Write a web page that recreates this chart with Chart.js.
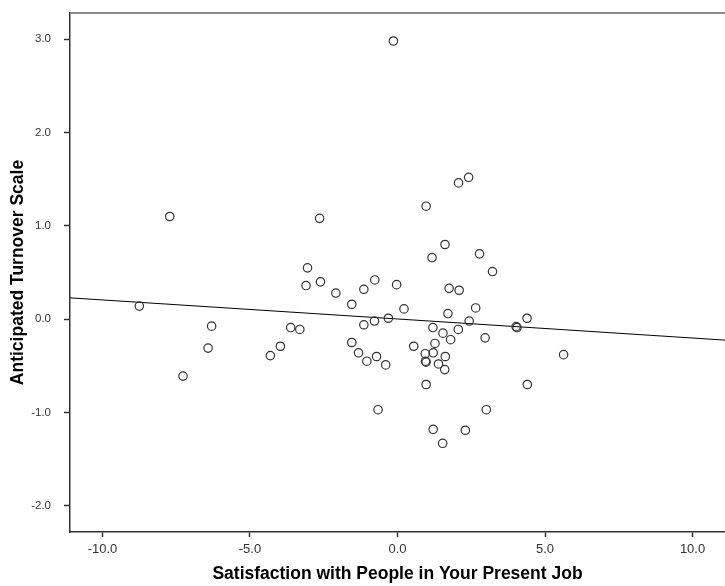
<!DOCTYPE html>
<html>
<head>
<meta charset="utf-8">
<script src="https://cdn.jsdelivr.net/npm/chart.js@4/dist/chart.umd.min.js"></script>
<style>
  html, body { margin: 0; padding: 0; background: #ffffff; }
  #wrap { width: 725px; height: 586px; position: relative; }
</style>
</head>
<body>
<div id="wrap"><canvas id="c" width="725" height="586"></canvas></div>
<script>
// Satisfaction with People in Your Present Job (x)
const satisfactionX = [
  -0.14, 2.07, 2.41, -7.72, -8.75, -6.30, -6.42, -7.27, -3.62, -3.31,
  -3.97, -4.31, -3.05, -3.10, 0.97, -2.64, 1.61, 2.78, 1.17, 3.22,
  -2.61, -0.77, -1.14, -0.03, -2.09, 1.75, 2.09, -1.55, 0.22, 2.65,
  1.71, -0.31, -0.78, -1.14, 2.43, 4.39, 4.02, 4.05, 1.20, 2.06,
  1.54, 2.97, 1.80, 1.27, -1.55, 0.55, 1.21, 0.94, -1.32, -0.71,
  1.62, -1.04, 0.95, 0.97, 1.39, -0.40, 1.60, 0.97, 4.40, 5.63,
  -0.66, 3.01, 1.21, 2.30, 1.53
];
// Anticipated Turnover Scale (y)
const turnoverY = [
  2.98, 1.46, 1.52, 1.10, 0.14, -0.075, -0.31, -0.61, -0.09, -0.11,
  -0.29, -0.39, 0.55, 0.36, 1.21, 1.08, 0.80, 0.70, 0.66, 0.51,
  0.40, 0.42, 0.32, 0.37, 0.28, 0.33, 0.31, 0.16, 0.11, 0.12,
  0.06, 0.01, -0.02, -0.06, -0.02, 0.01, -0.08, -0.09, -0.09, -0.11,
  -0.15, -0.20, -0.22, -0.26, -0.25, -0.29, -0.36, -0.37, -0.36, -0.40,
  -0.40, -0.45, -0.45, -0.46, -0.48, -0.49, -0.54, -0.70, -0.70, -0.38,
  -0.97, -0.97, -1.18, -1.19, -1.33
];
// Fit line
const fitIntercept = 0.002;
const fitSlope = -0.0204;
const xRange = [-11.1, 11.1];
const yRange = [-2.28, 3.28];
const xTickValues = [-10, -5, 0, 5, 10];
const yTickValues = [-2, -1, 0, 1, 2, 3];

const points = satisfactionX.map((x, i) => ({ x: x, y: turnoverY[i] }));
const fitLine = xRange.map(x => ({ x: x, y: fitIntercept + fitSlope * x }));

const topBorder = {
  id: 'topBorder',
  afterDraw(chart) {
    const { ctx, chartArea } = chart;
    ctx.save();
    ctx.strokeStyle = '#8c8c8c';
    ctx.lineWidth = 2;
    ctx.beginPath();
    ctx.moveTo(chartArea.left, chartArea.top);
    ctx.lineTo(chartArea.right, chartArea.top);
    ctx.stroke();
    ctx.restore();
  }
};

function zeroPad(scale) {
  scale.paddingLeft = 0;
  scale.paddingRight = 0;
  scale.paddingTop = 0;
  scale.paddingBottom = 0;
}

new Chart(document.getElementById('c'), {
  type: 'scatter',
  data: {
    datasets: [
      {
        label: 'Observed',
        data: points,
        pointStyle: 'circle',
        pointRadius: 4.2,
        pointBorderWidth: 1.2,
        borderColor: '#333333',
        backgroundColor: 'rgba(255,255,255,0)',
        pointHoverRadius: 4.2
      },
      {
        label: 'Linear',
        type: 'line',
        data: fitLine,
        showLine: true,
        borderColor: '#000000',
        borderWidth: 1,
        pointRadius: 0,
        fill: false,
        tension: 0
      }
    ]
  },
  options: {
    responsive: false,
    animation: false,
    events: [],
    layout: { autoPadding: false, padding: { top: 13, right: 0, left: 0, bottom: 0 } },
    plugins: {
      legend: { display: false },
      tooltip: { enabled: false }
    },
    scales: {
      x: {
        type: 'linear',
        min: xRange[0],
        max: xRange[1],
        afterFit(scale) { scale.height = 54; zeroPad(scale); },
        afterBuildTicks(scale) { scale.ticks = xTickValues.map(v => ({ value: v })); },
        ticks: {
          includeBounds: false,
          padding: 5,
          color: '#333333',
          font: { family: '"Liberation Sans", Arial, sans-serif', size: 13 },
          maxRotation: 0,
          callback: v => Number(v).toFixed(1)
        },
        grid: {
          drawOnChartArea: false,
          drawTicks: true,
          tickLength: 5,
          tickColor: '#333333',
          tickWidth: 1.5
        },
        border: { display: true, color: '#333333', width: 1.5 },
        title: {
          display: true,
          text: 'Satisfaction with People in Your Present Job',
          color: '#000000',
          font: { family: '"Liberation Sans", Arial, sans-serif', size: 17.5, weight: 'bold', lineHeight: 1.2 },
          padding: { top: 0, bottom: 1 }
        }
      },
      y: {
        type: 'linear',
        min: yRange[0],
        max: yRange[1],
        afterFit(scale) { scale.width = 70; zeroPad(scale); },
        afterBuildTicks(scale) { scale.ticks = yTickValues.map(v => ({ value: v })); },
        ticks: {
          includeBounds: false,
          padding: 13,
          color: '#333333',
          font: { family: '"Liberation Sans", Arial, sans-serif', size: 11.5 },
          callback: v => Number(v).toFixed(1)
        },
        grid: {
          drawOnChartArea: false,
          drawTicks: true,
          tickLength: 6,
          tickColor: '#333333',
          tickWidth: 1.5
        },
        border: { display: true, color: '#333333', width: 1.5 },
        title: {
          display: true,
          text: 'Anticipated Turnover Scale',
          color: '#000000',
          font: { family: '"Liberation Sans", Arial, sans-serif', size: 17.5, weight: 'bold', lineHeight: 1.2 },
          padding: { top: 8, bottom: 0 }
        }
      }
    }
  },
  plugins: [topBorder]
});
</script>
</body>
</html>
